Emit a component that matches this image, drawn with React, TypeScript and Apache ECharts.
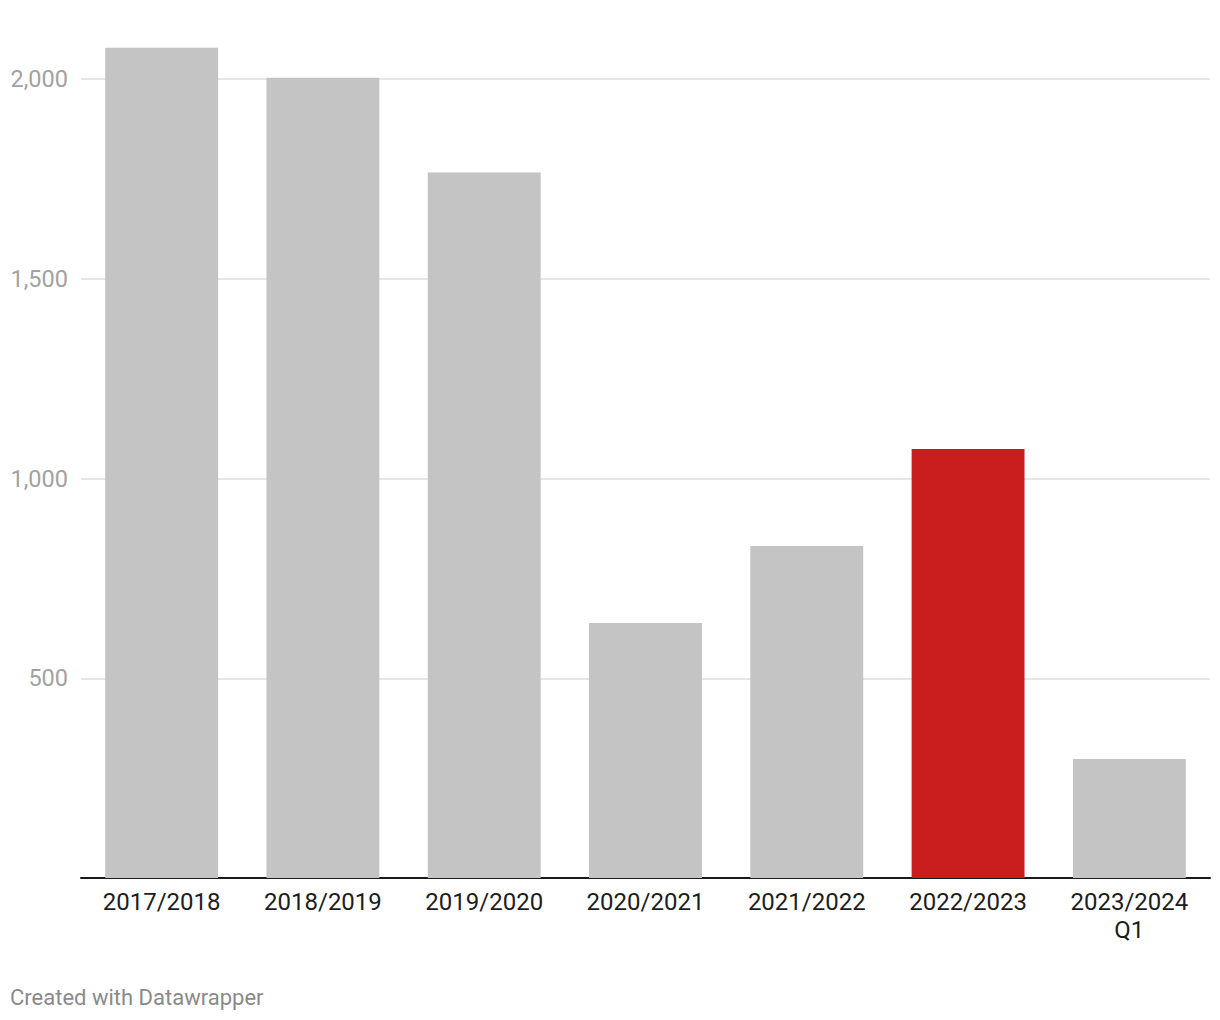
import React, { useEffect, useRef } from "react";
import * as echarts from "echarts";

const categories = ["2017/2018", "2018/2019", "2019/2020", "2020/2021", "2021/2022", "2022/2023", "2023/2024\nQ1"];
const values = [2078, 2003, 1766, 638, 831, 1074, 298];
const highlightIndex = 5;
const yTicks = [500, 1000, 1500, 2000];

export default function App() {
  const ref = useRef<HTMLDivElement>(null);
  useEffect(() => {
    document.body.style.margin = "0";
    const chart = echarts.init(ref.current!, null, { renderer: "svg" });
    chart.setOption({
      animation: false,
      backgroundColor: "#ffffff",
      textStyle: { fontFamily: "Roboto" },
      grid: { left: 81, right: 10, top: 79, bottom: 142, containLabel: false },
      xAxis: {
        type: "category",
        data: categories,
        axisLine: { show: true, lineStyle: { color: "#1a1a1a", width: 2 } },
        axisTick: { show: false },
        axisLabel: {
          color: "#1d1d1d",
          fontSize: 24,
          fontFamily: "Roboto",
          margin: 10,
          lineHeight: 28,
          interval: 0,
        },
      },
      yAxis: {
        type: "value",
        min: 0,
        max: 2000,
        interval: 500,
        axisLine: { show: false },
        axisTick: { show: false },
        splitLine: { show: true, lineStyle: { color: "#e6e6e6", width: 2 } },
        axisLabel: {
          color: "#a2a2a2",
          fontSize: 23.5,
          fontFamily: "Roboto",
          margin: 13,
          formatter: (v: number) => (yTicks.includes(v) ? v.toLocaleString("en-US") : ""),
        },
      },
      series: [
        {
          type: "bar",
          clip: false,
          barWidth: "70%",
          data: values.map((v, i) => ({
            value: v,
            itemStyle: { color: i === highlightIndex ? "#c91d1e" : "#c4c4c4" },
          })),
        },
      ],
      graphic: [
        {
          type: "text",
          left: 10,
          top: 986,
          style: {
            text: "Created with Datawrapper",
            fill: "#8a8a8a",
            fontSize: 22,
            fontFamily: "Roboto",
          },
        },
      ],
    });
    return () => chart.dispose();
  }, []);
  return <div ref={ref} style={{ width: 1220, height: 1020 }} />;
}
